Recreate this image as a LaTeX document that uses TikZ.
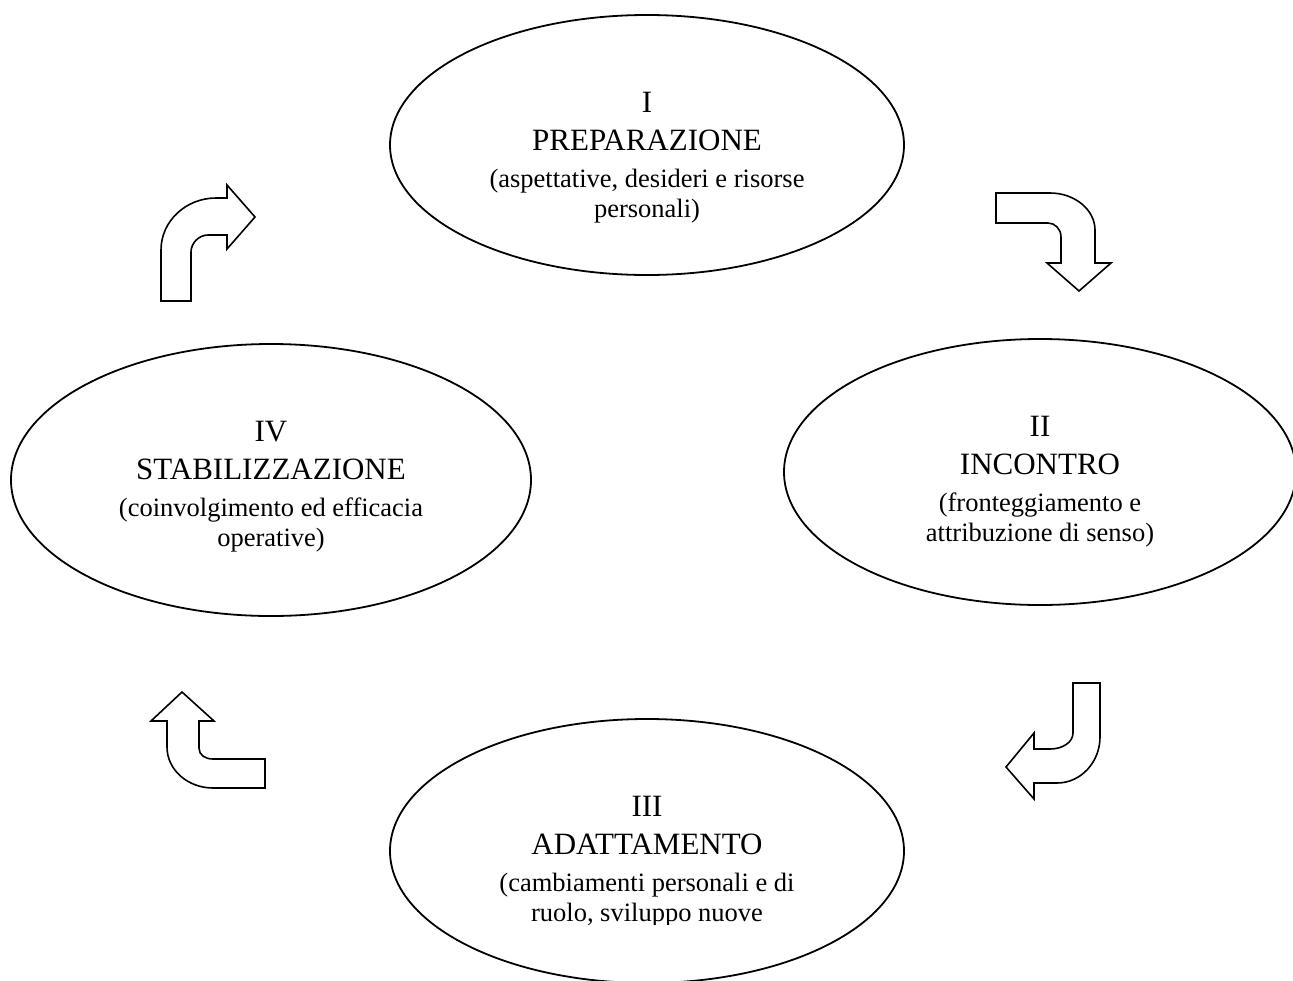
\documentclass[tikz,border=0pt]{standalone}
\usepackage{fontspec}
\setmainfont{Liberation Serif}
\usetikzlibrary{shapes.geometric}
\newcommand{\phasename}{\fontsize{31}{30}\selectfont}

\begin{document}
\begin{tikzpicture}[x=1pt, y=-1pt,
    phase/.style={draw, ellipse, line width=1.8pt, inner sep=0pt, outer sep=0pt},
    phasetext/.style={anchor=north, align=center, inner sep=0pt, font=\fontsize{26.5}{30}\selectfont},
    bentarrow/.style={draw, line width=1.6pt, line join=miter, fill=white}]
    \useasboundingbox (0,0) rectangle (1293,980);
    % The four phases.
    \node[phase, minimum width=514pt, minimum height=260pt] (prep) at (647,145) {};
    \node[phase, minimum width=512pt, minimum height=266pt] (incontro) at (1040,472) {};
    \node[phase, minimum width=514pt, minimum height=264pt] (adatt) at (647,851) {};
    \node[phase, minimum width=520pt, minimum height=272pt] (stabil) at (271,480) {};
    % Their texts.
    \node[phasetext] (preptext) at ([yshift=-76.5pt]prep.north)
        {{\phasename I}\\[8pt]{\phasename PREPARAZIONE}\\[7pt]
         (aspettative, desideri e risorse\\personali)};
    \node[phasetext] (incontrotext) at ([yshift=-76.5pt]incontro.north)
        {{\phasename II}\\[8pt]{\phasename INCONTRO}\\[7pt]
         (fronteggiamento e\\attribuzione di senso)};
    \begin{scope}
        \clip (380,700) rectangle (910,924);
        \node[phasetext] (adatttext) at ([yshift=-76.5pt]adatt.north)
            {{\phasename III}\\[8pt]{\phasename ADATTAMENTO}\\[7pt]
             (cambiamenti personali e di\\ruolo, sviluppo nuove};
    \end{scope}
    \node[phasetext] (stabiltext) at ([yshift=-76.5pt]stabil.north)
        {{\phasename IV}\\[8pt]{\phasename STABILIZZAZIONE}\\[7pt]
         (coinvolgimento ed efficacia\\operative)};
    % Bent arrows going round the cycle.
    \draw[bentarrow] (996,193) -- (1050,193)
        .. controls (1075,193) and (1095,210) .. (1095,230)
        -- (1095,263) -- (1111,263) -- (1079,291) -- (1047,263) -- (1061,263)
        -- (1061,237) .. controls (1061,229) and (1055,223) .. (1048,223)
        -- (996,223) -- cycle;
    \draw[bentarrow] (1073,683) -- (1100,683) -- (1100,737)
        .. controls (1100,762) and (1081,783) .. (1057,783)
        -- (1034,783) -- (1034,799) -- (1006,767) -- (1034,733) -- (1034,749)
        -- (1050,749) .. controls (1063,749) and (1073,742) .. (1073,733)
        -- cycle;
    \draw[bentarrow] (265,759) -- (265,788) -- (213,788)
        .. controls (188,788) and (167,770) .. (167,747)
        -- (167,721) -- (151,721) -- (182,692) -- (214,721) -- (199,721)
        -- (199,748) .. controls (199,755) and (205,759) .. (213,759)
        -- cycle;
    \draw[bentarrow] (161,301) -- (161,250)
        .. controls (161,221) and (186,198) .. (216,198)
        -- (227,198) -- (227,185) -- (255,217) -- (227,249) -- (227,235)
        -- (208,235) .. controls (199,235) and (191,243) .. (191,252)
        -- (191,301) -- cycle;
\end{tikzpicture}
\end{document}
